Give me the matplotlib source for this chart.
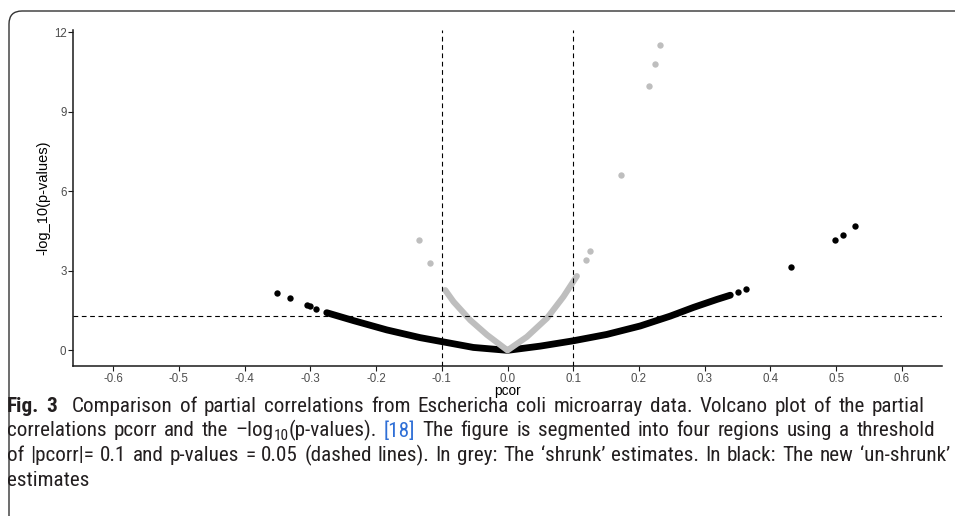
import matplotlib
matplotlib.use("Agg")
import matplotlib.pyplot as plt
import matplotlib.patches as mpatches
from matplotlib.transforms import IdentityTransform
from matplotlib import font_manager
import math

W, H = 955, 516

# ---------------- data ----------------
# dense band of black ("un-shrunk") estimates, read along its centre
black_curve_x = [-0.275, -0.234, -0.1835, -0.133, -0.100, -0.052, 0.000,
                 0.050, 0.100, 0.151, 0.202, 0.2475, 0.283, 0.3185, 0.339]
black_curve_y = [1.42, 1.12, 0.77, 0.48, 0.33, 0.11, 0.00,
                 0.16, 0.36, 0.60, 0.92, 1.29, 1.62, 1.92, 2.08]
# isolated black points
black_pts_x = [-0.3505, -0.331, -0.305, -0.300, -0.291,
               0.351, 0.363, 0.432, 0.4985, 0.511, 0.528]
black_pts_y = [2.15, 1.96, 1.70, 1.68, 1.57,
               2.20, 2.31, 3.15, 4.16, 4.36, 4.70]
# dense band of grey ("shrunk") estimates
grey_curve_x = [-0.0947, -0.082, -0.0567, -0.031, 0.000,
                0.0295, 0.060, 0.085, 0.1055]
grey_curve_y = [2.27, 1.83, 1.14, 0.58, 0.00,
                0.51, 1.21, 2.02, 2.80]
# isolated grey points
grey_pts_x = [-0.134, -0.1175, 0.1196, 0.126, 0.173, 0.215, 0.224, 0.232]
grey_pts_y = [4.17, 3.28, 3.42, 3.73, 6.63, 9.96, 10.78, 11.53]

pcor_threshold = 0.1
p_threshold = 0.05
xticks = [-0.6, -0.5, -0.4, -0.3, -0.2, -0.1, 0.0, 0.1, 0.2, 0.3, 0.4, 0.5, 0.6]
xtick_labels = ["-0.6", "-0.5", "-0.4", "-0.3", "-0.2", "-0.1", "0.0",
                "0.1", "0.2", "0.3", "0.4", "0.5", "0.6"]
yticks = [0, 3, 6, 9, 12]
ytick_labels = ["0", "3", "6", "9", "12"]
x_title = "pcor"
y_title = "-log_10(p-values)"

TXT = "#231f20"
caption_lines = [
    [("Fig. 3", "bold", TXT, False, 0),
     ("Comparison of partial correlations from Eschericha coli microarray data. Volcano plot of the partial",
      "normal", TXT, False, 2)],
    [("correlations pcorr and the \u2013log", "normal", TXT, False, 0),
     ("10", "normal", TXT, True, 0),
     ("(p-values).", "normal", TXT, False, 0),
     ("[18]", "normal", "#2f6fd6", False, 1),
     ("The figure is segmented into four regions using a threshold", "normal", TXT, False, 1)],
    [("of |pcorr|= 0.1 and p-values = 0.05 (dashed lines). In grey: The \u2018shrunk\u2019 estimates. In black: The new \u2018un-shrunk\u2019",
      "normal", TXT, False, 0)],
    [("estimates", "normal", TXT, False, 0)],
]

# ---------------- figure ----------------
plt.rcParams['font.family'] = ['Liberation Sans', 'DejaVu Sans']
plt.rcParams['lines.scale_dashes'] = False

fig = plt.figure(figsize=(W / 100, H / 100), dpi=100)
ax = fig.add_axes([73 / W, 1 - 366 / H, 869 / W, 336 / H])

grey = "#bebebe"
ax.plot(black_curve_x, black_curve_y, color="black", lw=4.9,
        solid_capstyle="round", solid_joinstyle="round", zorder=2)
ax.scatter(black_pts_x, black_pts_y, s=21, color="black", lw=0, zorder=2)
ax.plot(grey_curve_x, grey_curve_y, color=grey, lw=4.4,
        solid_capstyle="round", solid_joinstyle="round", zorder=3)
ax.scatter(grey_pts_x, grey_pts_y, s=21, color=grey, lw=0, zorder=3)

dash = (0, (3.4, 2.6))
for v in (-pcor_threshold, pcor_threshold):
    ax.axvline(v, color="black", lw=0.8, ls=dash, zorder=4)
ax.axhline(-math.log10(p_threshold), color="black", lw=0.8, ls=dash, zorder=4)

ax.set_xlim(-0.661, 0.661)
ax.set_ylim(-0.59, 12.08)
ax.set_xticks(xticks)
ax.set_xticklabels(xtick_labels)
ax.set_yticks(yticks)
ax.set_yticklabels(ytick_labels)
for s in ("top", "right"):
    ax.spines[s].set_visible(False)
for s in ("left", "bottom"):
    ax.spines[s].set_linewidth(1.1)
    ax.spines[s].set_color("#1a1a1a")
ax.tick_params(axis="both", direction="out", length=3.5, width=0.8,
               color="#1a1a1a", labelsize=8.3, labelcolor="#4d4d4d", pad=1.2)

fig.text(507 / W, 1 - 390.5 / H, x_title, ha="center", va="center", fontsize=9.8)
fig.text(43.5 / W, 1 - 198 / H, y_title, ha="center", va="center",
         rotation=90, fontsize=10.5)

# frame with rounded corner (extends past right/bottom edges)
frame = mpatches.FancyBboxPatch((9, -40), 1000, (H - 11) + 40,
                                boxstyle="round,pad=0,rounding_size=13",
                                transform=IdentityTransform(),
                                facecolor="none", edgecolor="#333333",
                                lw=1.0, clip_on=False)
fig.add_artist(frame)

# ---------------- caption ----------------
renderer = fig.canvas.get_renderer()
avail = {f.name for f in font_manager.fontManager.ttflist}
cap_family = None
for cand in ['Liberation Sans Narrow', 'DejaVu Sans Condensed', 'Roboto Condensed',
             'Open Sans Condensed', 'Roboto', 'Liberation Sans']:
    if cand in avail:
        cap_family = [cand, 'DejaVu Sans']
        break
if cap_family is None:
    cap_family = ['DejaVu Sans']


def text_w(s, size, weight="normal"):
    t = fig.text(0, 0, s, fontsize=size, family=cap_family, fontweight=weight)
    w = t.get_window_extent(renderer).width
    t.remove()
    return w


def tokens(segs):
    out = []
    for text, weight, color, sub, gap in segs:
        words = text.split(" ")
        for i, wd in enumerate(words):
            g = gap if i == 0 else 1
            out.append((wd, weight, color, sub, g))
    return out


def layout(segs, size, extra, yb=None):
    sp = text_w("a a", size) - text_w("aa", size)
    x = 7.0
    for wd, weight, color, sub, g in tokens(segs):
        x += g * (sp + extra)
        fs = size * 0.72 if sub else size
        if yb is None:
            x += text_w(wd, fs, weight)
        else:
            y = yb + (3.5 if sub else 0)
            t = fig.text(x / W, 1 - y / H, wd, fontsize=fs, family=cap_family,
                         fontweight=weight, color=color, ha="left", va="baseline")
            x += t.get_window_extent(renderer).width
    return x


targets = [925.0, 935.0, 950.0]
baselines = [412.5, 436.5, 461.0, 485.5]
base = 12.0
w_ref = layout(caption_lines[2], base, 0.0) - 7.0
cap_size = 0.975 * base * (targets[2] - 7.0) / w_ref

for i, segs in enumerate(caption_lines):
    if i < 3:
        nat = layout(segs, cap_size, 0.0)
        ngaps = sum(g for *_, g in tokens(segs))
        extra = max(0.0, (targets[i] - nat) / max(ngaps, 1))
    else:
        extra = 0.0
    layout(segs, cap_size, extra, yb=baselines[i])

fig.savefig("out.png", dpi=100)
